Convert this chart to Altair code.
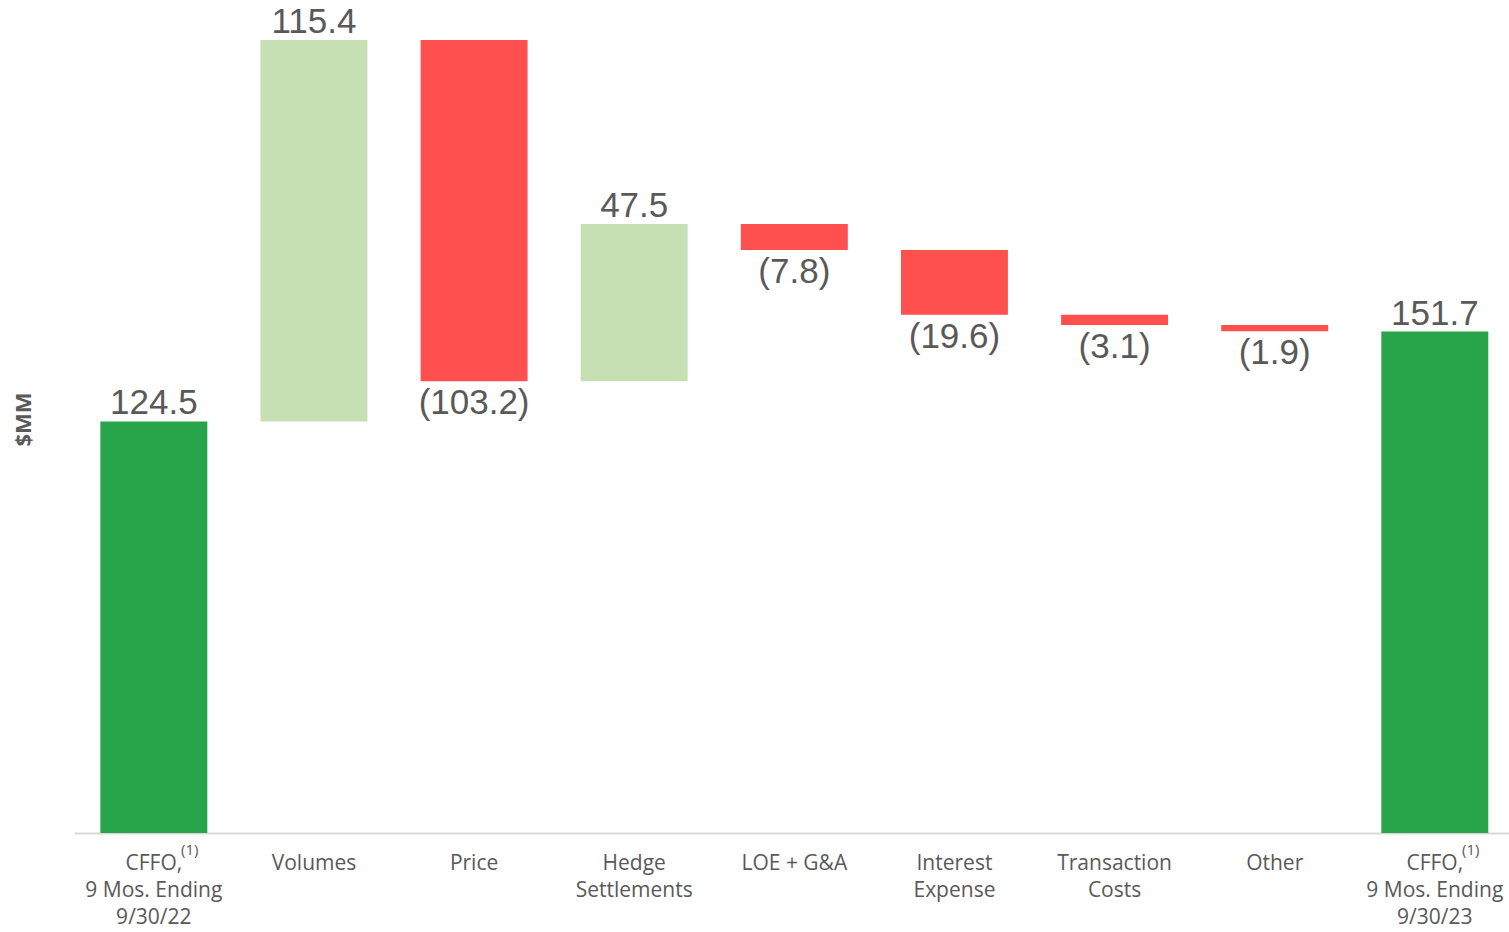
import altair as alt
import pandas as pd

categories = ["CFFO,|9 Mos. Ending|9/30/22", "Volumes", "Price", "Hedge|Settlements",
              "LOE + G&A", "Interest|Expense", "Transaction|Costs", "Other",
              "CFFO,|9 Mos. Ending|9/30/23"]
values = [124.5, 115.4, -103.2, 47.5, -7.8, -19.6, -3.1, -1.9, 151.7]
kinds = ["total", "delta", "delta", "delta", "delta", "delta", "delta", "delta", "total"]
footnote_cats = [categories[0], categories[-1]]
footnote_text = "(1)"

rows = []
running = 0.0
for c, v, k in zip(categories, values, kinds):
    if k == "total":
        start, end = 0.0, v
        running = v
        cls = "total"
    else:
        start, end = running, running + v
        running = end
        cls = "up" if v >= 0 else "down"
    label = f"{abs(v):.1f}" if v >= 0 else f"({abs(v):.1f})"
    rows.append(dict(cat=c, start=start, end=end, cls=cls, label=label, pos=v >= 0))
df = pd.DataFrame(rows)
fn = pd.DataFrame(dict(cat=footnote_cats, y=[0, 0], t=[footnote_text] * 2))

x = alt.X("cat:N", sort=categories,
          scale=alt.Scale(paddingInner=0.332, paddingOuter=0.147, align=0.56),
          axis=alt.Axis(title=None, labelAngle=0, labelExpr="split(datum.label, '|')",
                        labelFont="Open Sans", labelFontSize=21, labelColor="#595959",
                        labelLineHeight=27, labelPadding=19, ticks=False,
                        domainColor="#D9D9D9", domainWidth=2, labelBaseline="top"))
yscale = alt.Scale(domain=[0, 252], nice=False, zero=True)
y_axis = alt.Axis(title="$MM", labels=False, ticks=False, domain=False, grid=False,
                  titleFont="Open Sans", titleFontSize=22, titleFontWeight="bold",
                  titleColor="#595959", titleX=-39, titleY=419, titleAngle=270)

bars = alt.Chart(df).mark_bar().encode(
    x=x,
    y=alt.Y("start:Q", scale=yscale, axis=y_axis),
    y2="end:Q",
    color=alt.Color("cls:N", scale=alt.Scale(domain=["total", "up", "down"],
                                             range=["#28A44A", "#C6E0B4", "#FF5050"]),
                    legend=None),
)

lab_up = alt.Chart(df).transform_filter("datum.pos").mark_text(
    baseline="alphabetic", dy=-7, font="Liberation Sans", fontSize=35, color="#595959"
).encode(x=alt.X("cat:N", sort=categories), y=alt.Y("end:Q", scale=yscale), text="label:N")

lab_dn = alt.Chart(df).transform_filter("!datum.pos").mark_text(
    baseline="top", dy=5, font="Liberation Sans", fontSize=35, color="#595959"
).encode(x=alt.X("cat:N", sort=categories), y=alt.Y("end:Q", scale=yscale), text="label:N")

foot = alt.Chart(fn).mark_text(
    baseline="middle", dx=36, dy=17, font="Open Sans", fontSize=15, color="#595959"
).encode(x=alt.X("cat:N", sort=categories), y=alt.Y("y:Q", scale=yscale), text="t:N")

chart = alt.layer(bars, lab_up, lab_dn, foot).properties(
    width=1435, height=833,
    autosize=alt.AutoSizeParams(type="none"),
    padding={"left": 74, "top": 0, "right": 0, "bottom": 99},
).configure_view(stroke=None)

chart.save("out.html", embed_options={"renderer": "svg", "actions": False})
